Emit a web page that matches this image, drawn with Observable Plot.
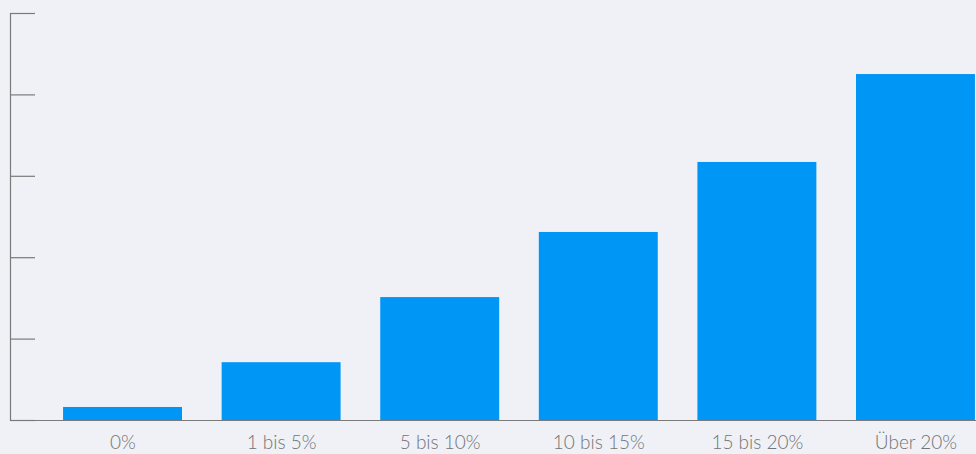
<!DOCTYPE html>
<html>
<head>
<meta charset="utf-8">
<script src="https://cdn.jsdelivr.net/npm/d3@7"></script>
<script src="https://cdn.jsdelivr.net/npm/@observablehq/plot@0.6"></script>
<style>
  html, body { margin: 0; padding: 0; background: #eff1f6; }
  #chart svg { display: block; }
</style>
</head>
<body>
<div id="chart"></div>
<script>
const categories = ["0%", "1 bis 5%", "5 bis 10%", "10 bis 15%", "15 bis 20%", "Über 20%"];
const values = [0.16, 0.71, 1.51, 2.31, 3.17, 4.25];
const yTicks = [0, 1, 2, 3, 4, 5];

const data = categories.map((c, i) => ({category: c, value: values[i]}));

const chart = Plot.plot({
  width: 976,
  height: 454,
  marginTop: 13,
  marginBottom: 34,
  marginLeft: 10,
  marginRight: 0,
  style: {background: "#eff1f6", fontFamily: "Lato, 'Open Sans', sans-serif", overflow: "hidden"},
  x: {domain: categories, range: [23.4, 1014.6], paddingInner: 0.25, paddingOuter: 0.25, round: false, label: null},
  y: {domain: [0, 5], label: null},
  marks: [
    Plot.barY(data, {x: "category", y: "value", fill: "#0096f5"}),
    Plot.axisX({tickSize: 0, tickPadding: 15, fontSize: 19, fontWeight: 300, fill: "#747474", label: null}),
    Plot.axisY(yTicks, {tickSize: -25, tickFormat: () => null, stroke: "#7a7a7a", strokeWidth: 1.2, label: null}),
    Plot.frame({anchor: "left", stroke: "#7a7a7a", strokeWidth: 1.2}),
    Plot.ruleY([0], {stroke: "#7a7a7a", strokeWidth: 1.2})
  ]
});
document.getElementById("chart").appendChild(chart);
</script>
</body>
</html>
